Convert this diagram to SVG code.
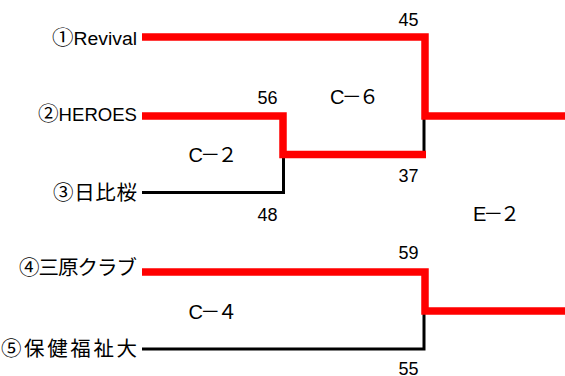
<svg xmlns="http://www.w3.org/2000/svg" width="565" height="376" viewBox="0 0 565 376">
<style>
.team{font-family:"Liberation Sans","Noto Sans CJK JP",sans-serif;font-size:18px;fill:#000;text-anchor:end}
.circ{font-family:"Noto Sans CJK JP",sans-serif;font-size:20px}
.jp{font-family:"Noto Sans CJK JP",sans-serif;font-size:20.5px;fill:#000;text-anchor:end}
.score{font-family:"Liberation Sans","Noto Sans CJK JP",sans-serif;font-size:18px;fill:#000;text-anchor:middle}
.match{font-family:"Liberation Sans","Noto Sans CJK JP",sans-serif;font-size:20px;fill:#000;text-anchor:middle}
.win{fill:none;stroke:#ff0000;stroke-width:7.5;stroke-linejoin:miter;stroke-linecap:butt}
.lose{fill:none;stroke:#000;stroke-width:3;stroke-linejoin:miter;stroke-linecap:butt}
</style>
<rect width="565" height="376" fill="#fff"/>
<g id="connectors">
<path class="lose" d="M142 192.5 H283.5 V156"/>
<path class="lose" d="M142 349 H424 V312"/>
<path class="lose" d="M424 154 V118"/>
<path class="win" d="M142 37 H425 V116 H565"/>
<path class="win" d="M142 116 H283 V154.5 H426"/>
<path class="win" d="M142 272 H425 V311 H565"/>
</g>
<g id="team1"><text class="team" x="137" y="44.5" textLength="85" lengthAdjust="spacingAndGlyphs"><tspan class="circ">①</tspan>Revival</text></g>
<g id="team2"><text class="team" x="137" y="120.5" textLength="99" lengthAdjust="spacingAndGlyphs"><tspan class="circ">②</tspan>HEROES</text></g>
<g id="team3"><text class="jp" x="137" y="199.5" textLength="84" lengthAdjust="spacing">③日比桜</text></g>
<g id="team4"><text class="jp" x="137" y="274.5" textLength="118" lengthAdjust="spacing">④三原クラブ</text></g>
<g id="team5"><text class="jp" x="137" y="356" textLength="136" lengthAdjust="spacing">⑤保健福祉大</text></g>
<g id="matchC2"><text class="match" x="213" y="161.5" textLength="49" lengthAdjust="spacing">C－２</text></g>
<g id="matchC6"><text class="match" x="354.5" y="104" textLength="49" lengthAdjust="spacing">C－６</text></g>
<g id="matchC4"><text class="match" x="213" y="319" textLength="49" lengthAdjust="spacing">C－４</text></g>
<g id="matchE2"><text class="match" x="496.5" y="220.5" textLength="47" lengthAdjust="spacing">E－２</text></g>
<g id="scores">
<text class="score" x="408.5" y="26">45</text>
<text class="score" x="267.5" y="104">56</text>
<text class="score" x="408.5" y="181.5">37</text>
<text class="score" x="267.5" y="220.5">48</text>
<text class="score" x="408.5" y="259">59</text>
<text class="score" x="408.5" y="375">55</text>
</g>
</svg>
